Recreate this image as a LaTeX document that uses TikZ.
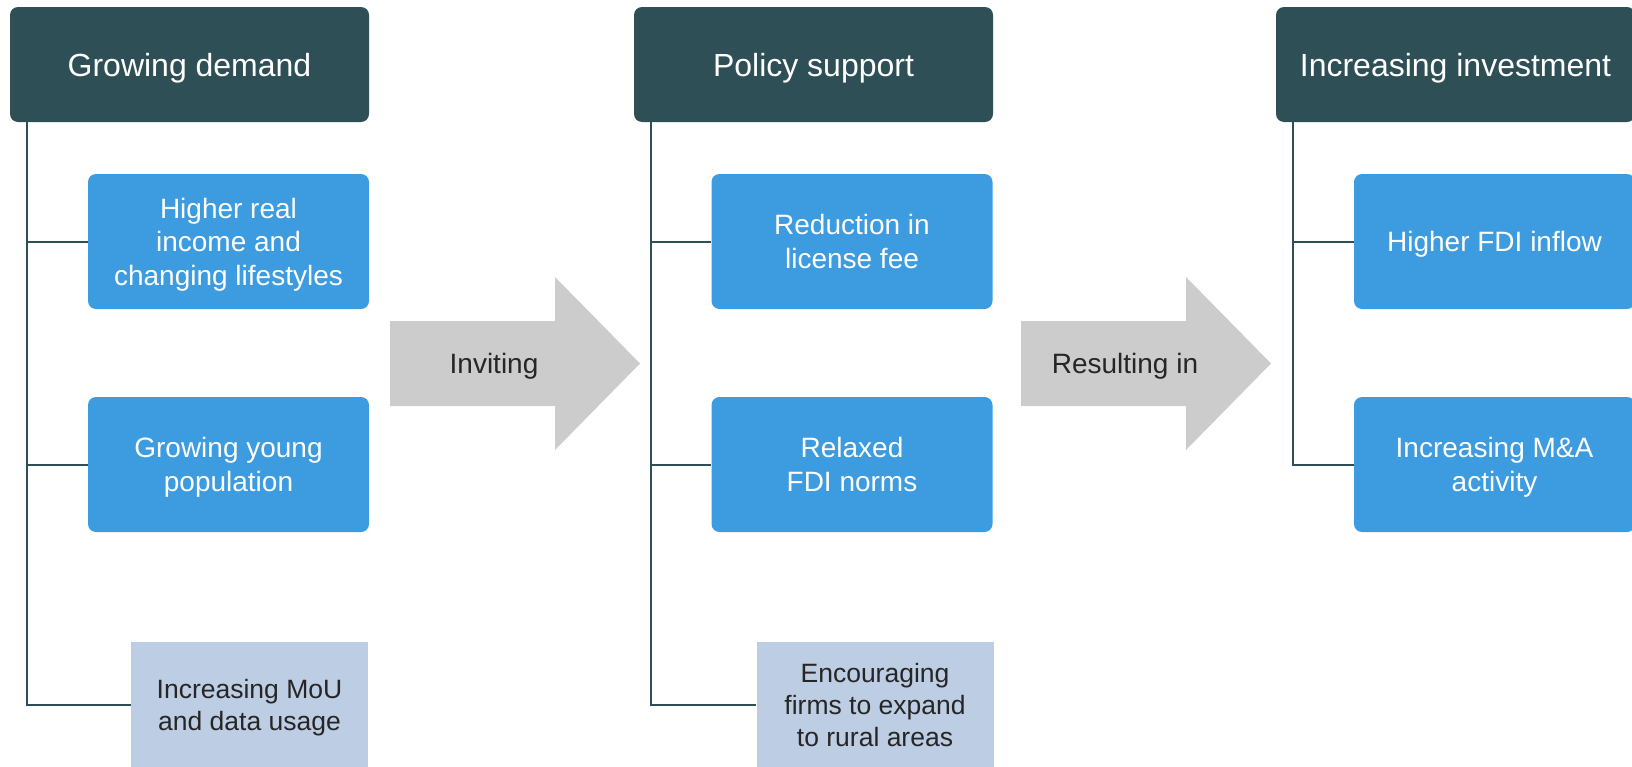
\documentclass[tikz,border=0pt]{standalone}
\usepackage{fontspec}
\setmainfont{Liberation Sans}

\definecolor{headteal}{RGB}{47,79,87}
\definecolor{boxblue}{RGB}{61,155,223}
\definecolor{paleblue}{RGB}{189,205,227}
\definecolor{arrowgray}{RGB}{204,204,204}
\definecolor{darktext}{RGB}{38,38,38}

\begin{document}
\begin{tikzpicture}
  [x=1pt,y=-1pt,every node/.style={text depth=0pt},
   head/.style={rectangle,rounded corners=8pt,fill=headteal,text=white,minimum width=359pt,minimum height=115pt,font=\fontsize{32}{38}\selectfont},
   item/.style={rectangle,rounded corners=8pt,fill=boxblue,text=white,minimum width=281pt,minimum height=135pt,align=center,font=\fontsize{28}{33.5}\selectfont},
   pale/.style={rectangle,fill=paleblue,text=darktext,minimum width=237pt,minimum height=126pt,align=center,font=\fontsize{26.5}{32}\selectfont},
   flow/.style={text=darktext,font=\fontsize{28}{33}\selectfont},
   link/.style={draw=headteal,line width=2pt}]
  \useasboundingbox (0,0) rectangle (1632,766);

  % big grey arrows between the columns
  \foreach \x/\txt/\name in {390/Inviting/inv,1021/Resulting in/res}{
    \fill[arrowgray] (\x,321) -- ++(165,0) -- ++(0,-44) -- ++(85,86.5) -- ++(-85,86.5) -- ++(0,-44) -- ++(-165,0) -- cycle;
    \node[flow] (\name) at (\x+104,363.5) {\txt};
  }

  % column headers
  \node[head] (gd) at (189.5,64.5) {Growing demand};
  \node[head] (ps) at (813.5,64.5) {Policy support};
  \node[head] (ii) at (1455.5,64.5) {Increasing investment};

  % drivers
  \node[item] (hri) at (228.5,241.5) {Higher real\\income and\\changing lifestyles};
  \node[item] (gyp) at (228.5,464.5) {Growing young\\population};
  \node[pale] (mou) at (249.5,705) {Increasing MoU\\and data usage};

  \node[item] (rlf) at (852,241.5) {Reduction in\\license fee};
  \node[item] (fdi) at (852,464.5) {Relaxed\\FDI norms};
  \node[pale] (rur) at (875,705) {Encouraging\\firms to expand\\to rural areas};

  \node[item] (fin) at (1494.5,241.5) {Higher FDI inflow};
  \node[item] (mna) at (1494.5,464.5) {Increasing M\&A\\activity};

  \foreach \from/\to in {gd/hri,gd/gyp,gd/mou,ps/rlf,ps/fdi,ps/rur,ii/fin,ii/mna}
    \draw[link] ([xshift=17.5pt]\from.south west) |- (\to.west);
\end{tikzpicture}
\end{document}
